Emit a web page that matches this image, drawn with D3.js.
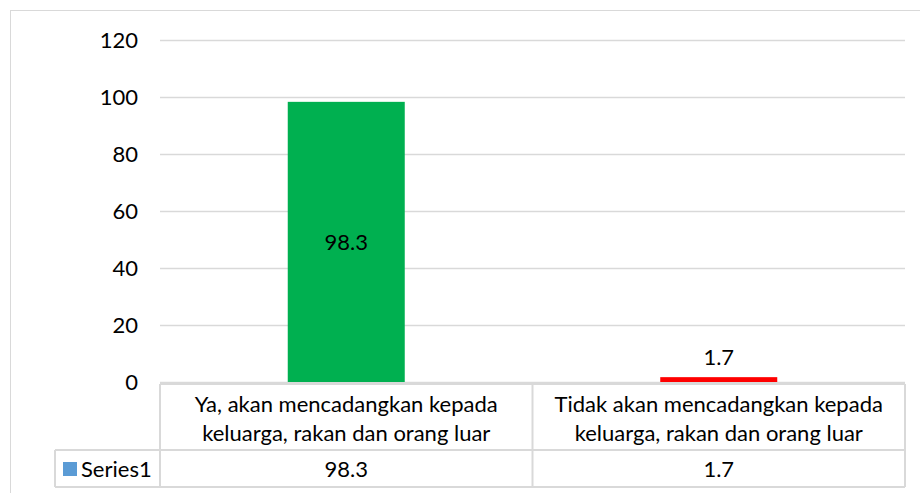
<!DOCTYPE html>
<html><head><meta charset="utf-8">
<script src="https://cdn.jsdelivr.net/npm/d3@7"></script>
<style>body{margin:0;background:#fff}svg{display:block}text{font-family:Lato,"Open Sans",sans-serif;fill:#000}</style>
</head><body><svg id="c" width="920" height="493"></svg>
<script>
const categories = [["Ya, akan mencadangkan kepada","keluarga, rakan dan orang luar"],["Tidak akan mencadangkan kepada","keluarga, rakan dan orang luar"]];
const values = [98.3, 1.7];
const barColors = ["#00B050", "#FF0000"];
const yTicks = [0, 20, 40, 60, 80, 100, 120];
const seriesName = "Series1";

(function(){
const svg = d3.select("#c");
const fs = 22;
svg.append("rect").attr("x",10.5).attr("y",10.5).attr("width",930).attr("height",500).attr("fill","none").attr("stroke","#d9d9d9");

const pL = 160, pR = 905, pT = 40, pB = 382;
const y = d3.scaleLinear().domain([0,120]).range([pB, pT]);
const x = d3.scaleBand().domain(d3.range(categories.length)).range([pL, pR]).paddingInner(0).paddingOuter(0);

svg.append("g").selectAll("line").data(yTicks).join("line")
  .attr("x1",pL).attr("x2",pR).attr("y1",d=>Math.round(y(d))+0.5).attr("y2",d=>Math.round(y(d))+0.5)
  .attr("stroke","#d9d9d9").attr("stroke-width",1.5);
svg.append("g").selectAll("text").data(yTicks).join("text")
  .attr("x",138).attr("y",d=>y(d)).attr("dy","0.35em").attr("text-anchor","end").attr("font-size",fs).text(d=>d);

const bw = 117;
svg.append("g").selectAll("rect").data(values).join("rect")
  .attr("x",(d,i)=>x(i)+x.bandwidth()/2-bw/2).attr("width",bw)
  .attr("y",d=>y(d)).attr("height",d=>pB-y(d)).attr("fill",(d,i)=>barColors[i]);
svg.append("g").selectAll("text").data(values).join("text")
  .attr("x",(d,i)=>x(i)+x.bandwidth()/2)
  .attr("y",d=> d>10 ? (y(d)+pB)/2 : y(d)-20)
  .attr("dy","0.35em").attr("text-anchor","middle").attr("font-size",fs).text(d=>d);

const tTop = 384, tMid = 450, tBot = 487, tLeft = 55;
const g = svg.append("g").attr("stroke","#d9d9d9").attr("stroke-width",2);
g.append("line").attr("x1",pL).attr("x2",pR).attr("y1",tTop).attr("y2",tTop);
g.append("line").attr("x1",tLeft).attr("x2",pR).attr("y1",tMid).attr("y2",tMid);
g.append("line").attr("x1",tLeft).attr("x2",pR).attr("y1",tBot).attr("y2",tBot);
g.append("line").attr("x1",tLeft).attr("x2",tLeft).attr("y1",tMid).attr("y2",tBot);
[0,1,2].forEach(i=>{
  const xx = i<2 ? x(i) : pR;
  g.append("line").attr("x1",xx).attr("x2",xx).attr("y1",tTop).attr("y2",tBot);
});
categories.forEach((lines,i)=>{
  lines.forEach((l,j)=>{
    svg.append("text").attr("x",x(i)+x.bandwidth()/2).attr("y",404+j*29).attr("dy","0.35em")
      .attr("text-anchor","middle").attr("font-size",fs).text(l);
  });
});
svg.append("rect").attr("x",63).attr("y",462).attr("width",14).attr("height",14).attr("fill","#5B9BD5");
svg.append("text").attr("x",81).attr("y",469).attr("dy","0.35em").attr("font-size",fs).text(seriesName);
values.forEach((v,i)=>{
  svg.append("text").attr("x",x(i)+x.bandwidth()/2).attr("y",469).attr("dy","0.35em")
    .attr("text-anchor","middle").attr("font-size",fs).text(v);
});
})();
</script></body></html>
